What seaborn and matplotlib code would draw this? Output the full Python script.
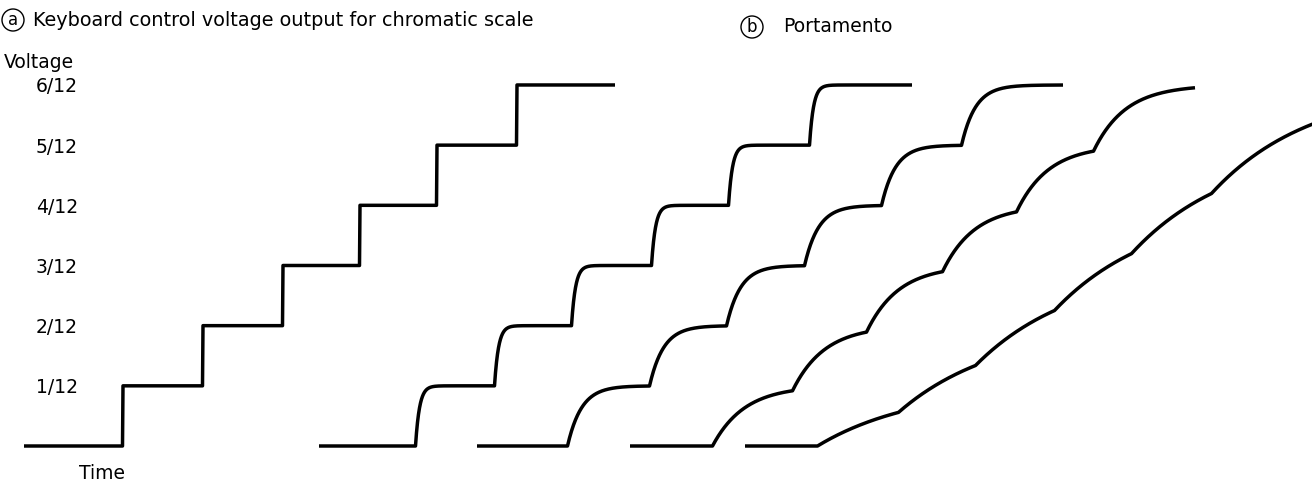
import matplotlib
matplotlib.use("Agg")
import matplotlib.pyplot as plt
import numpy as np
import pandas as pd
import seaborn as sns

# key press times (same time units for every curve)
curve_names = ["a", "b1", "b2", "b3", "b4"]
start_times = [24, 319, 477, 630, 745]
end_times = [615, 912, 1063, 1195, 1330]
key_times = [
    [123, 203, 283, 360, 437, 517],
    [416, 495, 572, 652, 729, 810],
    [568, 650, 727, 805, 882, 962],
    [713, 793, 867, 943, 1017, 1094],
    [818, 899, 976, 1055, 1132, 1212],
]
key_levels = [1, 2, 3, 4, 5, 6]          # in twelfths of a volt
glide_tau = [0, 4, 14, 32, 99]          # portamento lag per curve

tick_levels = [1, 2, 3, 4, 5, 6]
tick_labels = ["1/12", "2/12", "3/12", "4/12", "5/12", "6/12"]

# first order lag (the portamento circuit) driven by the keyboard steps
rows = []
dt = 0.5
for name, t0, t1, keys, tau in zip(curve_names, start_times, end_times, key_times, glide_tau):
    v = 0.0
    for t in np.arange(t0, t1 + dt, dt):
        target = 0
        for k, lev in zip(keys, key_levels):
            if t >= k:
                target = lev
        if tau == 0:
            v = target
        else:
            v += (target - v) * (1 - np.exp(-dt / tau))
        rows.append((name, t, v))
df = pd.DataFrame(rows, columns=["curve", "time", "voltage"])

sns.set_style("white")
plt.rcParams["font.family"] = ["DejaVu Sans"]
plt.rcParams["text.color"] = "black"
plt.rcParams["ytick.color"] = "black"

fig = plt.figure(figsize=(13.12, 4.98), dpi=100)
ax = fig.add_axes([0, 0, 1, 1])
sns.lineplot(data=df, x="time", y="voltage", units="curve", estimator=None,
             sort=False, color="black", linewidth=2.5, ax=ax)
for l in ax.lines:
    l.set_solid_capstyle("butt")
    l.set_solid_joinstyle("round")

ax.set_xlim(0, 1312)
ax.set_ylim((446 - 498) / 60.17, 446 / 60.17)
ax.set_yticks(tick_levels)
ax.set_yticklabels(tick_labels, fontsize=13.5)
# tick labels sit inside the axes, right edge near x = 78 px
ax.tick_params(axis="y", length=0, pad=-56)
ax.set_xticks([])
ax.set_xlabel("")
ax.set_ylabel("")
for s in ax.spines.values():
    s.set_visible(False)

fig.text(4 / 1312, 1 - 63 / 498, "Voltage", fontsize=13.5, va="center", ha="left")
fig.text(79 / 1312, 1 - 473 / 498, "Time", fontsize=13.5, va="center", ha="left")

circ = dict(boxstyle="circle,pad=0.12", fc="white", ec="black", lw=1.0)
fig.text(13 / 1312, 1 - 20 / 498, "a", fontsize=12, va="center", ha="center", bbox=circ)
fig.text(33 / 1312, 1 - 20 / 498, "Keyboard control voltage output for chromatic scale",
         fontsize=13.9, va="center", ha="left")
fig.text(752 / 1312, 1 - 27 / 498, "b", fontsize=12, va="center", ha="center", bbox=circ)
fig.text(783 / 1312, 1 - 27 / 498, "Portamento", fontsize=13.5, va="center", ha="left")

fig.savefig("out.png", dpi=100, facecolor="white")
